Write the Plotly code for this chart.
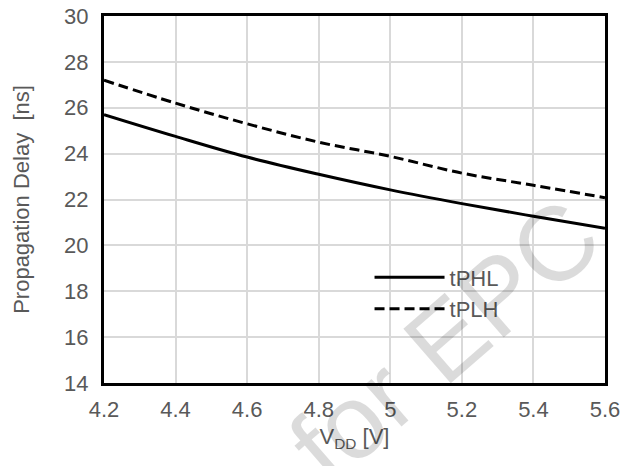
import plotly.graph_objects as go

vdd = [4.2, 4.4, 4.6, 4.8, 5.0, 5.2, 5.4, 5.6]
tphl = [25.7, 24.75, 23.85, 23.1, 22.42, 21.82, 21.27, 20.75]
tplh = [27.2, 26.2, 25.3, 24.5, 23.88, 23.15, 22.62, 22.08]
x_ticks = [4.2, 4.4, 4.6, 4.8, 5.0, 5.2, 5.4, 5.6]
x_ticktext = ["4.2", "4.4", "4.6", "4.8", "5", "5.2", "5.4", "5.6"]
y_ticks = [14, 16, 18, 20, 22, 24, 26, 28, 30]

FONT = "Liberation Sans, Arial, sans-serif"
GRAY = "#595959"

fig = go.Figure()
fig.add_trace(go.Scatter(x=vdd, y=tphl, mode="lines", name="tPHL",
                         line=dict(color="black", width=3, shape="spline")))
fig.add_trace(go.Scatter(x=vdd, y=tplh, mode="lines", name="tPLH",
                         line=dict(color="black", width=3, dash="10px,5px", shape="spline")))

fig.update_layout(
    width=636, height=466,
    margin=dict(l=104, r=31, t=16, b=83, autoexpand=False),
    paper_bgcolor="white", plot_bgcolor="white",
    font=dict(family=FONT, size=22, color=GRAY),
    showlegend=True,
    legend=dict(x=0.53, y=0.345, xanchor="left", yanchor="top",
                bgcolor="rgba(0,0,0,0)", borderwidth=0,
                font=dict(family=FONT, size=22, color=GRAY),
                itemwidth=70, tracegroupgap=0),
    annotations=[dict(text="for EPC", xref="paper", yref="paper", x=0.68, y=0.115,
                      xanchor="center", yanchor="middle",
                      showarrow=False, textangle=-41,
                      font=dict(family=FONT, size=105, color="rgba(0,0,0,0.14)"))],
)
fig.update_xaxes(range=[4.2, 5.6], tickvals=x_ticks, ticktext=x_ticktext,
                 showgrid=True, gridcolor="#d9d9d9", gridwidth=2,
                 showline=True, linecolor="black", linewidth=3, mirror=True,
                 ticks="", ticklabelstandoff=5, zeroline=False, automargin=False,
                 title=dict(text="V<sub>DD</sub> [V]", standoff=8,
                            font=dict(family=FONT, size=22, color=GRAY)))
fig.update_yaxes(range=[14, 30], tickvals=y_ticks,
                 showgrid=True, gridcolor="#d9d9d9", gridwidth=2,
                 showline=True, linecolor="black", linewidth=3, mirror=True,
                 ticks="", ticklabelstandoff=8, zeroline=False, automargin=False,
                 title=dict(text="Propagation Delay  [ns]", standoff=29,
                            font=dict(family=FONT, size=22, color=GRAY)))

fig.write_html("out.html", config={"displayModeBar": False},
               post_script="document.body.style.margin='0px';")
